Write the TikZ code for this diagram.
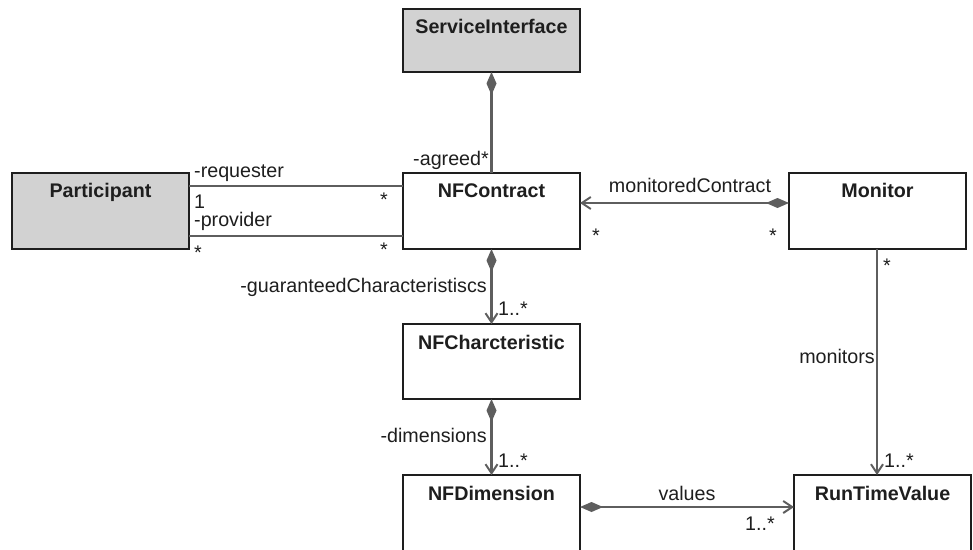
\documentclass[tikz,border=0pt]{standalone}
\usepackage{fontspec}
\setmainfont{Liberation Sans}
\usetikzlibrary{arrows.meta,calc}
\definecolor{boxgray}{HTML}{D2D2D2}
\definecolor{linegray}{HTML}{5E5E5E}
\definecolor{txt}{HTML}{1E1E1E}
\tikzset{
  umlbox/.style={draw=txt, line width=1.8pt, minimum width=177pt, minimum height=76pt, anchor=north west, inner sep=0pt, outer sep=0pt},
  cname/.style={anchor=base, font=\fontsize{19.7}{23}\selectfont\bfseries, text=txt, inner sep=0pt},
  lbl/.style={font=\fontsize{19.7}{23}\selectfont, text=txt, inner sep=0pt},
  conn/.style={draw=linegray, line width=2.4pt},
  comp/.style={conn, {Diamond[length=23pt,width=10pt,fill=linegray]}-{Straight Barb[length=9pt,width=12pt,line width=2pt]}},
  compn/.style={conn, {Diamond[length=23pt,width=10pt,fill=linegray]}-},
  nav/.style={conn, -{Straight Barb[length=9pt,width=12pt,line width=2pt]}}
}
\begin{document}
\begin{tikzpicture}[x=1pt,y=-1pt]
\clip (0,0) rectangle (973,549);
\fill[white] (0,0) rectangle (973,549);
% boxes
\node[umlbox, minimum height=63pt, fill=boxgray] (si) at (403,9) {};
\node[umlbox, fill=boxgray] (part) at (12,173) {};
\node[umlbox] (nfc) at (403,173) {};
\node[umlbox] (mon) at (789,173) {};
\node[umlbox, minimum height=75pt] (nfch) at (403,324) {};
\node[umlbox, minimum height=90pt] (nfd) at (403,475) {};
\node[umlbox, minimum height=90pt] (rtv) at (794,475) {};
% class names
\node[cname] (siT) at (491.5,33) {ServiceInterface};
\node[cname] (partT) at (100.5,197) {Participant};
\node[cname] (nfcT) at (491.5,197) {NFContract};
\node[cname] (monT) at (877.5,197) {Monitor};
\node[cname] (nfchT) at (491.5,349) {NFCharcteristic};
\node[cname] (nfdT) at (491.5,500) {NFDimension};
\node[cname] (rtvT) at (882.5,500) {RunTimeValue};
% connectors
\draw[compn] (si.south) -- (nfc.north);
\draw[conn] ([yshift=-13pt]part.north east) -- ([yshift=-13pt]nfc.north west);
\draw[conn] ([yshift=-63pt]part.north east) -- ([yshift=-63pt]nfc.north west);
\draw[comp] ([yshift=-30pt]mon.north west) -- ([yshift=-30pt]nfc.north east);
\draw[comp] (nfc.south) -- (nfch.north);
\draw[comp] (nfch.south) -- (nfd.north);
\draw[comp] ([yshift=-32pt]nfd.north east) -- ([yshift=-32pt]nfd.north east -| rtv.west);
\coordinate (monX) at ([xshift=-0.5pt]mon.south);
\draw[nav] (monX) -- (monX |- rtv.north);
% labels
\node[lbl, anchor=base east] (l1) at (489,165) {-agreed*};
\node[lbl, anchor=base west] (l2) at (194,177) {-requester};
\node[lbl, anchor=base west] (l3) at (194,208) {1};
\node[lbl, anchor=base west] (l4) at (194,226) {-provider};
\node[lbl, anchor=base west] (l5) at (194,259) {*};
\node[lbl, anchor=base] (l6) at (384,206) {*};
\node[lbl, anchor=base] (l7) at (384,256) {*};
\node[lbl, anchor=base] (l8) at (690,192) {monitoredContract};
\node[lbl, anchor=base] (l9) at (596,242) {*};
\node[lbl, anchor=base] (l10) at (773,242) {*};
\node[lbl, anchor=base west] (l11) at (883,272) {*};
\node[lbl, anchor=base east] (l12) at (875,363) {monitors};
\node[lbl, anchor=base west] (l13) at (884,467) {1..*};
\node[lbl, anchor=base east] (l14) at (487,292) {-guaranteedCharacteristiscs};
\node[lbl, anchor=base west] (l15) at (498,315) {1..*};
\node[lbl, anchor=base east] (l16) at (487,442) {-dimensions};
\node[lbl, anchor=base west] (l17) at (498,467) {1..*};
\node[lbl, anchor=base] (l18) at (687,500) {values};
\node[lbl, anchor=base east] (l19) at (775,530) {1..*};
\end{tikzpicture}
\end{document}
